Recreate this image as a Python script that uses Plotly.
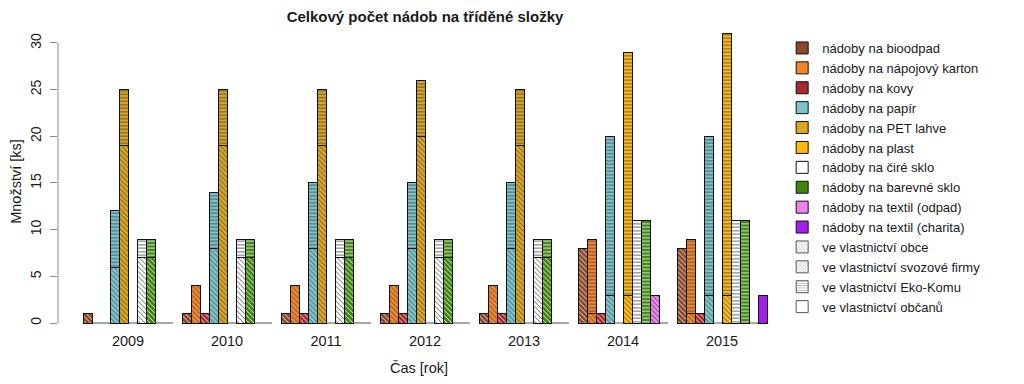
import plotly.graph_objects as go

years = ["2009", "2010", "2011", "2012", "2013", "2014", "2015"]
categories = [
    "nádoby na bioodpad", "nádoby na nápojový karton", "nádoby na kovy",
    "nádoby na papír", "nádoby na PET lahve", "nádoby na plast",
    "nádoby na čiré sklo", "nádoby na barevné sklo",
    "nádoby na textil (odpad)", "nádoby na textil (charita)",
]
colors = ["#8B4726", "#F5852A", "#A52A2A", "#7AC5CD", "#DAA520",
          "#FFB90F", "#FFFFFF", "#3F8512", "#EE82EE", "#A020F0"]

owners = ["ve vlastnictví obce", "ve vlastnictví svozové firmy",
          "ve vlastnictví Eko-Komu", "ve vlastnictví občanů"]
owner_patterns = ["/", "\\", "-", ""]

# values per category (rows) and year (columns)
obce = [[0] * 7 for _ in range(10)]
svozova_firma = [
    [1, 1, 1, 1, 1, 8, 8],
    [0, 4, 4, 4, 4, 1, 1],
    [0, 1, 1, 1, 1, 1, 1],
    [6, 8, 8, 8, 8, 3, 3],
    [19, 19, 19, 20, 19, 0, 0],
    [0, 0, 0, 0, 0, 3, 3],
    [7, 7, 7, 7, 7, 0, 0],
    [7, 7, 7, 7, 7, 0, 0],
    [0, 0, 0, 0, 0, 3, 0],
    [0, 0, 0, 0, 0, 0, 0],
]
eko_kom = [
    [0, 0, 0, 0, 0, 0, 0],
    [0, 0, 0, 0, 0, 8, 8],
    [0, 0, 0, 0, 0, 0, 0],
    [6, 6, 7, 7, 7, 17, 17],
    [6, 6, 6, 6, 6, 0, 0],
    [0, 0, 0, 0, 0, 26, 28],
    [2, 2, 2, 2, 2, 11, 11],
    [2, 2, 2, 2, 2, 11, 11],
    [0, 0, 0, 0, 0, 0, 0],
    [0, 0, 0, 0, 0, 0, 0],
]
obcanu = [
    [0] * 7, [0] * 7, [0] * 7, [0] * 7, [0] * 7,
    [0] * 7, [0] * 7, [0] * 7, [0] * 7,
    [0, 0, 0, 0, 0, 0, 3],
]
owner_data = [obce, svozova_firma, eko_kom, obcanu]

ncat = len(categories)
pitch = ncat + 1  # R barplot beside=TRUE, space=c(0,1)

def pos(g, i):
    return g * pitch + 1 + i + 0.5

FONT = "Liberation Sans, Arial, sans-serif"
fig = go.Figure()

for data, shape in zip(owner_data, owner_patterns):
    xs, ys, cs = [], [], []
    for g in range(len(years)):
        for i in range(ncat):
            v = data[i][g]
            if v:
                xs.append(pos(g, i))
                ys.append(v)
                cs.append(colors[i])
    if not xs:
        continue
    fig.add_trace(go.Bar(
        x=xs, y=ys, width=1, showlegend=False, hoverinfo="skip",
        marker=dict(color=cs, line=dict(color="#111", width=1),
                    pattern=dict(shape=shape, fgcolor="#111", size=3.5,
                                 solidity=0.28, fgopacity=0.85)),
    ))

# legend keys
for name, c in zip(categories, colors):
    fig.add_trace(go.Bar(x=[None], y=[None], name=name,
                         marker=dict(color=c, line=dict(color="#111", width=1))))
for name, shape in zip(owners, owner_patterns):
    fig.add_trace(go.Bar(x=[None], y=[None], name=name,
                         marker=dict(color="white", line=dict(color="#555", width=1),
                                     pattern=dict(shape=shape, fgcolor="#555", size=3,
                                                  solidity=0.3))))

# gray baseline under each group, y axis line 0..30
shapes = []
for g in range(len(years)):
    shapes.append(dict(type="line", xref="x", yref="y",
                       x0=pos(g, 0) - 0.5, x1=pos(g, ncat - 1) + 0.5, y0=0, y1=0,
                       line=dict(color="#8a8a8a", width=1.5), layer="below"))
shapes.append(dict(type="line", xref="paper", yref="y", x0=0, x1=0, y0=0, y1=30,
                   line=dict(color="#8a8a8a", width=1)))

# page body has an 8px margin: figure is drawn 8px smaller and offset
W, H = 1016, 376

fig.update_layout(
    width=W, height=H,
    margin=dict(l=50, r=244, t=25, b=54),
    paper_bgcolor="white", plot_bgcolor="white",
    barmode="stack",
    font=dict(family=FONT, size=13, color="#1a1a1a"),
    title=dict(text="<b>Celkový počet nádob na tříděné složky</b>",
               x=417 / W, xref="container", xanchor="center",
               y=1 - 9 / H, yref="container", yanchor="middle",
               font=dict(size=15, color="#1a1a1a"), automargin=False),
    xaxis=dict(range=[1 - 25 / 9, 1 + 697 / 9], showgrid=False, zeroline=False,
               showline=False, ticks="", automargin=False,
               tickvals=[g * pitch + 1 + ncat / 2 for g in range(len(years))],
               ticktext=years, tickfont=dict(size=14.5),
               title=dict(text="Čas [rok]", standoff=15, font=dict(size=14.5))),
    yaxis=dict(range=[-0.75, 31.07], showgrid=False, zeroline=False, showline=False,
               ticks="outside", ticklen=7, tickcolor="#8a8a8a", tickwidth=1,
               automargin=False, ticklabelstandoff=3,
               tickvals=[0, 5, 10, 15, 20, 25, 30], tickangle=-90,
               tickfont=dict(size=14),
               title=dict(text="Množství [ks]", standoff=10, font=dict(size=14.5))),
    legend=dict(x=1.003, xanchor="left", y=1.0, yanchor="top",
                font=dict(size=13, color="#1a1a1a"), itemwidth=30,
                bgcolor="rgba(0,0,0,0)", traceorder="normal"),
    shapes=shapes,
)

fig.write_html("out.html")
